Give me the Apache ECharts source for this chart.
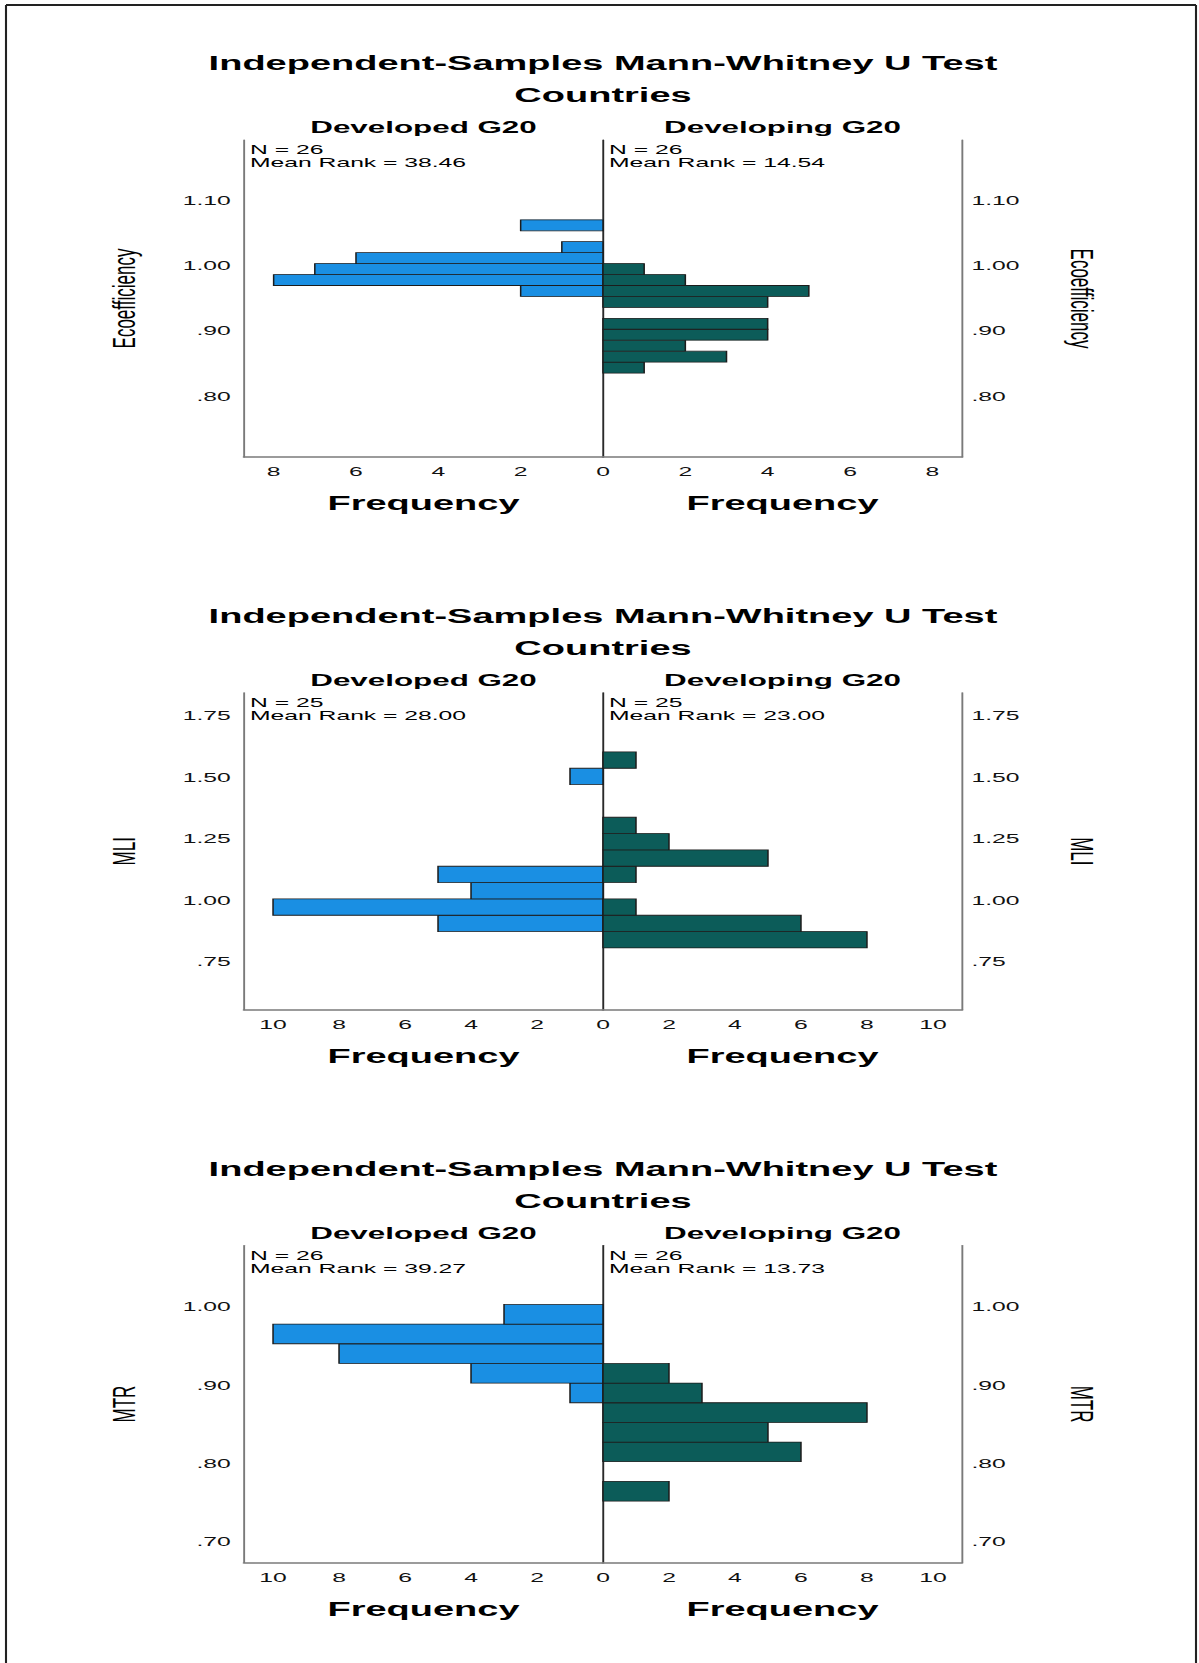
<!DOCTYPE html>
<html>
<head>
<meta charset="utf-8">
<script src="https://cdn.jsdelivr.net/npm/echarts@6/dist/echarts.min.js"></script>
<style>
  html, body { margin: 0; padding: 0; background: #fff; overflow: hidden; }
  #main { position: absolute; left: 0; top: 0; height: 1663px; transform-origin: 0 0; }
</style>
</head>
<body>
<div id="main"></div>
<script>
// ---------------- DATA ----------------
const variableNames = ['Ecoefficiency', 'MLI', 'MTR'];
const groupNames = ['Developed G20', 'Developing G20'];
const nDeveloped = [26, 25, 26];
const nDeveloping = [26, 25, 26];
const meanRankDeveloped = ['38.46', '28.00', '39.27'];
const meanRankDeveloping = ['14.54', '23.00', '13.73'];

// Histogram bins (start value of first bin, bin width, counts per bin from low to high)
const ecoBinStart = 0.8351, ecoBinWidth = 0.01675;
const ecoDeveloped  = [0, 0, 0, 0, 0, 0, 0, 2, 8, 7, 6, 1, 0, 2];
const ecoDeveloping = [1, 3, 2, 4, 4, 0, 4, 5, 2, 1, 0, 0, 0, 0];

const mliBinStart = 0.806, mliBinWidth = 0.0664;
const mliDeveloped  = [0, 5, 10, 4, 5, 0, 0, 0, 0, 0, 1, 0];
const mliDeveloping = [8, 6, 1, 0, 1, 5, 2, 1, 0, 0, 0, 1];

const mtrBinStart = 0.7519, mtrBinWidth = 0.0251;
const mtrDeveloped  = [0, 0, 0, 0, 0, 1, 4, 8, 10, 3];
const mtrDeveloping = [2, 0, 6, 5, 8, 3, 2, 0, 0, 0];

// Axis ticks and extents
const ecoYTicks = [0.8, 0.9, 1.0, 1.1];
const mliYTicks = [0.75, 1.0, 1.25, 1.5, 1.75];
const mtrYTicks = [0.7, 0.8, 0.9, 1.0];
const ecoYRange = [0.7066, 1.1918];
const mliYRange = [0.5545, 1.843];
const mtrYRange = [0.6733, 1.078];
const ecoFreqTicks = [0, 2, 4, 6, 8];
const mliFreqTicks = [0, 2, 4, 6, 8, 10];
const mtrFreqTicks = [0, 2, 4, 6, 8, 10];
const freqMax = [8.72, 10.88, 10.88];

// ---------------- LAYOUT ----------------
const S = 1.9;                 // horizontal stretch of the original picture
const W = 1199 / S;
const px = v => v / S;         // full-width x  -> inner x
const FRAME_LEFT = 244, FRAME_MID = 603, FRAME_RIGHT = 962;
const FRAME_TOP = 140, FRAME_H = 317, PANEL_STEP = 552.8;
const FONT = '"Liberation Sans", Arial, sans-serif';
const BLUE = '#1a8fe3', TEAL = '#0c5c59';

const panels = [
  { name: variableNames[0], start: ecoBinStart, width: ecoBinWidth, dev: ecoDeveloped, ding: ecoDeveloping, yTicks: ecoYTicks, yRange: ecoYRange, xTicks: ecoFreqTicks },
  { name: variableNames[1], start: mliBinStart, width: mliBinWidth, dev: mliDeveloped, ding: mliDeveloping, yTicks: mliYTicks, yRange: mliYRange, xTicks: mliFreqTicks },
  { name: variableNames[2], start: mtrBinStart, width: mtrBinWidth, dev: mtrDeveloped, ding: mtrDeveloping, yTicks: mtrYTicks, yRange: mtrYRange, xTicks: mtrFreqTicks }
];

const yFmt = v => (v < 1 ? v.toFixed(2).slice(1) : v.toFixed(2));
const toBins = (start, width, counts) =>
  counts.map((c, i) => [start + i * width, start + (i + 1) * width, c]).filter(d => d[2] > 0);

function renderBar(params, api) {
  const lo = api.value(0), hi = api.value(1), c = api.value(2);
  const a = api.coord([0, lo]);
  const b = api.coord([c, hi]);
  return {
    type: 'rect',
    shape: { x: Math.min(a[0], b[0]), y: b[1], width: Math.abs(b[0] - a[0]), height: a[1] - b[1] },
    style: { fill: api.visual('color'), stroke: '#1c1c1c', lineWidth: 0.8 }
  };
}

const grid = [], xAxis = [], yAxis = [], series = [], title = [], graphic = [];

panels.forEach((p, k) => {
  const off = k * PANEL_STEP;
  const top = FRAME_TOP + off;
  grid.push({ left: px(FRAME_LEFT), top: top, width: px(FRAME_MID) - px(FRAME_LEFT), height: FRAME_H });
  grid.push({ left: px(FRAME_MID), top: top, width: px(FRAME_RIGHT) - px(FRAME_MID), height: FRAME_H });

  const xBase = {
    type: 'value', min: 0, max: freqMax[k],
    axisTick: { show: false }, splitLine: { show: false },
    axisLine: { show: true, onZero: false, lineStyle: { color: '#7a7a7a', width: 1.5 } },
    name: 'Frequency', nameLocation: 'middle', nameGap: 36,
    nameTextStyle: { fontFamily: FONT, fontSize: 20, fontWeight: 'bold', color: '#000' }
  };
  xAxis.push(Object.assign({}, xBase, {
    gridIndex: 2 * k, inverse: true,
    axisLabel: { customValues: p.xTicks, margin: 8, fontFamily: FONT, fontSize: 13, color: '#111' }
  }));
  xAxis.push(Object.assign({}, xBase, {
    gridIndex: 2 * k + 1,
    axisLabel: { customValues: p.xTicks.filter(v => v > 0), margin: 8, fontFamily: FONT, fontSize: 13, color: '#111' }
  }));

  const yBase = {
    type: 'value', min: p.yRange[0], max: p.yRange[1],
    axisTick: { show: false }, splitLine: { show: false },
    nameLocation: 'middle', nameGap: 55,
    nameTextStyle: { fontFamily: FONT, fontSize: 17, color: '#000' }
  };
  yAxis.push(Object.assign({}, yBase, {
    gridIndex: 2 * k, position: 'left', name: p.name, nameRotate: 90,
    axisLine: { show: true, onZero: false, lineStyle: { color: '#7a7a7a', width: 1 } },
    axisLabel: { customValues: p.yTicks, formatter: yFmt, margin: 7, fontFamily: FONT, fontSize: 13, color: '#111' }
  }));
  yAxis.push(Object.assign({}, yBase, {
    gridIndex: 2 * k, position: 'right',
    axisLine: { show: true, onZero: false, lineStyle: { color: '#2a2a2a', width: 1 } },
    axisLabel: { show: false }
  }));
  yAxis.push(Object.assign({}, yBase, {
    gridIndex: 2 * k + 1, position: 'right', name: p.name, nameRotate: -90,
    axisLine: { show: true, onZero: false, lineStyle: { color: '#7a7a7a', width: 1 } },
    axisLabel: { customValues: p.yTicks, formatter: yFmt, margin: 5, fontFamily: FONT, fontSize: 13, color: '#111' }
  }));

  series.push({
    type: 'custom', name: groupNames[0] + ' ' + p.name,
    xAxisIndex: 2 * k, yAxisIndex: 3 * k,
    dimensions: ['lo', 'hi', 'count'], encode: { x: 2, y: [0, 1] },
    itemStyle: { color: BLUE },
    renderItem: renderBar,
    data: toBins(p.start, p.width, p.dev)
  });
  series.push({
    type: 'custom', name: groupNames[1] + ' ' + p.name,
    xAxisIndex: 2 * k + 1, yAxisIndex: 3 * k + 2,
    dimensions: ['lo', 'hi', 'count'], encode: { x: 2, y: [0, 1] },
    itemStyle: { color: TEAL },
    renderItem: renderBar,
    data: toBins(p.start, p.width, p.ding)
  });

  title.push({ text: 'Independent-Samples Mann-Whitney U Test', left: px(FRAME_MID), top: 63.5 + off - 10, textAlign: 'center', padding: 0,
    textStyle: { fontFamily: FONT, fontSize: 20, fontWeight: 'bold', color: '#000' } });
  title.push({ text: 'Countries', left: px(FRAME_MID), top: 95.4 + off - 10, textAlign: 'center', padding: 0,
    textStyle: { fontFamily: FONT, fontSize: 20, fontWeight: 'bold', color: '#000' } });
  title.push({ text: groupNames[0], left: px((FRAME_LEFT + FRAME_MID) / 2), top: 127 + off - 8.25, textAlign: 'center', padding: 0,
    textStyle: { fontFamily: FONT, fontSize: 16.5, fontWeight: 'bold', color: '#000' } });
  title.push({ text: groupNames[1], left: px((FRAME_MID + FRAME_RIGHT) / 2), top: 127 + off - 8.25, textAlign: 'center', padding: 0,
    textStyle: { fontFamily: FONT, fontSize: 16.5, fontWeight: 'bold', color: '#000' } });

  graphic.push({ type: 'text', x: px(250), y: 143.4 + off, z: 10,
    style: { text: 'N = ' + nDeveloped[k] + '\nMean Rank = ' + meanRankDeveloped[k],
      fontFamily: FONT, fontSize: 13, lineHeight: 12.7, fill: '#000', verticalAlign: 'top', align: 'left' } });
  graphic.push({ type: 'text', x: px(609), y: 143.4 + off, z: 10,
    style: { text: 'N = ' + nDeveloping[k] + '\nMean Rank = ' + meanRankDeveloping[k],
      fontFamily: FONT, fontSize: 13, lineHeight: 12.7, fill: '#000', verticalAlign: 'top', align: 'left' } });
});

// page frame
graphic.push({ type: 'line', shape: { x1: px(6), y1: 5, x2: px(6), y2: 1663 }, style: { stroke: '#222', lineWidth: 1.1 } });
graphic.push({ type: 'line', shape: { x1: px(6), y1: 5, x2: px(1196), y2: 5 }, style: { stroke: '#222', lineWidth: 2 } });
graphic.push({ type: 'line', shape: { x1: px(1196), y1: 5, x2: px(1196), y2: 1663 }, style: { stroke: '#222', lineWidth: 1.1 } });

const el = document.getElementById('main');
el.style.width = W + 'px';
el.style.transform = 'scaleX(' + S + ')';
const chart = echarts.init(el, null, { renderer: 'svg', width: W, height: 1663 });
chart.setOption({
  backgroundColor: '#fff',
  animation: false,
  title: title,
  grid: grid,
  xAxis: xAxis,
  yAxis: yAxis,
  series: series,
  graphic: graphic
});
</script>
</body>
</html>
